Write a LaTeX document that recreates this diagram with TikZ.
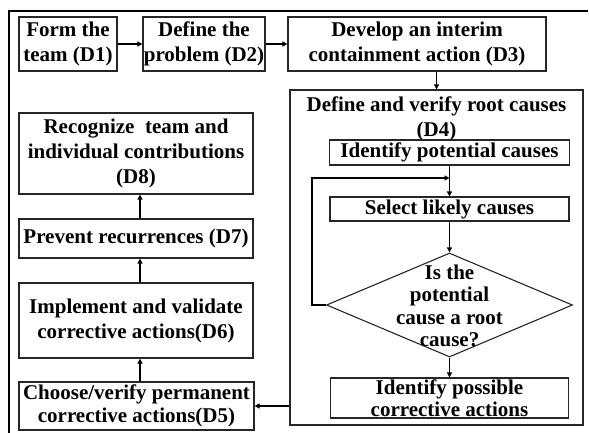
\documentclass[tikz,border=0pt]{standalone}
\usepackage{fontspec}
\setmainfont{Liberation Serif}
\usetikzlibrary{arrows.meta,shapes.geometric}
\begin{document}
\begin{tikzpicture}[x=1pt,y=-1pt,
  box/.style={draw=black!85,line width=1.1pt,inner sep=0pt,align=center,font=\fontsize{21}{25}\selectfont\bfseries},
  lbl/.style={inner sep=0pt,align=center,font=\fontsize{21}{25}\selectfont\bfseries},
  arr/.style={line width=1.6pt,-{Triangle[length=5pt,width=5pt]}},
  frameline/.style={line width=2.5pt}]
\useasboundingbox (0,0) rectangle (589,433);
% outer frame
\coordinate (f1) at (9,433);
\coordinate (f2) at (9,11);
\coordinate (f3) at (588,11);
\draw[frameline] (f1) -- (f2) -- (f3);
% top row
\node[box,minimum width=98pt,minimum height=54pt] (d1) at (68,44) {Form the\\team (D1)};
\node[box,minimum width=122pt,minimum height=54pt] (d2) at (204,44) {Define the\\problem (D2)};
\node[box,minimum width=258pt,minimum height=54pt] (d3) at (417,44) {Develop an interim\\containment action (D3)};
% D4 block
\node[box,minimum width=293pt,minimum height=335pt] (d4) at (436.5,257.5) {};
\node[lbl] (d4t) at (436.5,119) {Define and verify root causes\\(D4)};
\node[box,minimum width=240pt,minimum height=25pt] (ipc) at (449.5,152.5) {Identify potential causes};
\node[box,minimum width=239pt,minimum height=24pt] (slc) at (449.5,209) {Select likely causes};
\node[draw=black!85,line width=1.1pt,diamond,inner sep=0pt,minimum width=246pt,minimum height=104pt] (dia) at (449.5,305) {};
\node[lbl,font=\fontsize{21}{22.5}\selectfont\bfseries] (diat) at (449.5,306) {Is the\\potential\\cause a root\\cause?};
\node[box,minimum width=238pt,minimum height=40pt,font=\fontsize{21}{22}\selectfont\bfseries] (ipa) at (449.5,398) {Identify possible\\corrective actions};
% left column
\node[box,minimum width=234pt,minimum height=81pt] (d8) at (136,153.5) {Recognize\ \ team and\\individual contributions\\(D8)};
\node[box,minimum width=234pt,minimum height=39pt] (d7) at (136,238.5) {Prevent recurrences (D7)};
\node[box,minimum width=234pt,minimum height=75pt] (d6) at (136,320.5) {Implement and validate\\corrective actions(D6)};
\node[box,minimum width=235pt,minimum height=48pt,font=\fontsize{21}{23}\selectfont\bfseries] (d5) at (136.5,406) {Choose/verify permanent\\corrective actions(D5)};
% connectors
\draw[arr] (d1.east) -- (d2.west);
\draw[arr] (d2.east) -- (d3.west);
\draw[arr] (d3.south -| d4.north) -- (d4.north);
\draw[arr] (ipc.south) -- (slc.north);
\draw[arr] (slc.south) -- (dia.north);
\draw[arr] (dia.south) -- (ipa.north);
\coordinate (lp) at (312,178);
\draw[arr] (dia.west) -| (lp) -- (lp -| ipc.south);
\draw[arr] (d4.west |- d5.east) -- (d5.east);
\coordinate (ax) at (140,0);
\draw[arr] (d5.north -| ax) -- (d6.south -| ax);
\draw[arr] (d6.north -| ax) -- (d7.south -| ax);
\draw[arr] (d7.north -| ax) -- (d8.south -| ax);
\end{tikzpicture}
\end{document}
